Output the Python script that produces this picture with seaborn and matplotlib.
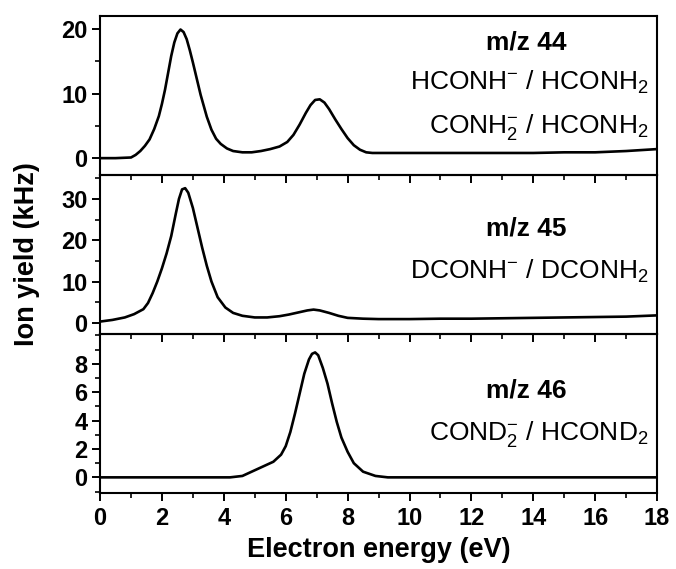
import matplotlib
matplotlib.use("Agg")
import matplotlib.pyplot as plt
from matplotlib.ticker import MultipleLocator, FixedLocator
import pandas as pd
import seaborn as sns

# Ion yield curves (kHz) versus electron energy (eV)
energy_44 = [0, 0.5, 1.0, 1.15, 1.3, 1.45, 1.6, 1.75, 1.9, 2.0, 2.1, 2.2, 2.3, 2.4,
             2.5, 2.6, 2.7, 2.8, 2.9, 3.0, 3.1, 3.25, 3.45, 3.6, 3.75, 3.9, 4.1,
             4.3, 4.6, 4.9, 5.2, 5.5, 5.8, 6.05, 6.25, 6.45, 6.65, 6.8, 6.95,
             7.1, 7.25, 7.4, 7.6, 7.8, 8.0, 8.2, 8.4, 8.6, 8.8, 9.0, 10, 11, 12,
             13, 14, 15, 16, 17, 18]
yield_44 = [0, 0, 0.1, 0.5, 1.1, 1.9, 2.9, 4.5, 6.5, 8.4, 10.6, 13.2, 15.8, 17.9,
            19.3, 19.9, 19.5, 18.4, 16.7, 14.8, 12.8, 9.8, 6.4, 4.4, 3.0, 2.2, 1.5,
            1.1, 0.9, 0.9, 1.1, 1.4, 1.8, 2.5, 3.6, 5.2, 7.0, 8.2, 9.0,
            9.1, 8.6, 7.6, 6.0, 4.5, 3.1, 2.0, 1.3, 0.9, 0.8, 0.8, 0.8, 0.8, 0.8,
            0.8, 0.8, 0.9, 0.9, 1.1, 1.4]

energy_45 = [0, 0.4, 0.8, 1.1, 1.4, 1.55, 1.7, 1.85, 2.0, 2.15, 2.3, 2.45, 2.55,
             2.65, 2.75, 2.85, 3.0, 3.15, 3.3, 3.45, 3.6, 3.8, 4.05, 4.3, 4.6,
             5.0, 5.4, 5.8, 6.1, 6.4, 6.7, 6.9, 7.1, 7.4, 7.7, 8.0, 8.5, 9.0, 10,
             11, 12, 13, 14, 15, 16, 17, 18]
yield_45 = [0.3, 0.7, 1.3, 2.1, 3.3, 4.8, 7.2, 10.0, 13.2, 16.8, 21.0, 26.5, 30.0,
            32.3, 32.6, 31.5, 27.8, 23.0, 18.2, 13.8, 10.0, 6.2, 3.7, 2.4, 1.7,
            1.3, 1.3, 1.6, 2.0, 2.5, 3.0, 3.2, 3.0, 2.4, 1.7, 1.2, 1.0, 0.9, 0.9,
            1.0, 1.0, 1.1, 1.2, 1.3, 1.4, 1.5, 1.8]

energy_46 = [0, 2, 4.2, 4.6, 5.0, 5.3, 5.6, 5.85, 6.0, 6.15, 6.3, 6.45, 6.6, 6.75,
             6.85, 6.95, 7.05, 7.2, 7.35, 7.5, 7.65, 7.8, 8.0, 8.2, 8.5, 8.9, 9.3,
             12, 15, 18]
yield_46 = [0, 0, 0, 0.1, 0.5, 0.8, 1.1, 1.6, 2.2, 3.2, 4.5, 5.9, 7.3, 8.3,
            8.7, 8.8, 8.6, 7.7, 6.6, 5.2, 3.9, 2.8, 1.8, 1.0, 0.4, 0.1, 0,
            0, 0, 0]

mass_labels = ["m/z 44", "m/z 45", "m/z 46"]
channel_labels = [
    [r"HCONH$^{-}$ / HCONH$_{2}$", r"CONH$_{2}^{-}$ / HCONH$_{2}$"],
    [r"DCONH$^{-}$ / DCONH$_{2}$"],
    [r"COND$_{2}^{-}$ / HCOND$_{2}$"],
]
x_ticks = [0, 2, 4, 6, 8, 10, 12, 14, 16, 18]
y_ticks = [[0, 10, 20], [0, 10, 20, 30], [0, 2, 4, 6, 8]]
y_limits = [(-2.6, 22.0), (-2.7, 35.8), (-1.1, 10.1)]
y_minor = [5, 5, 1]

sns.set_theme(style="ticks")
plt.rcParams["font.family"] = ["Liberation Sans", "DejaVu Sans"]
plt.rcParams["mathtext.default"] = "regular"
for key in ["text.color", "axes.labelcolor", "xtick.color", "ytick.color",
            "axes.edgecolor"]:
    plt.rcParams[key] = "black"

fig = plt.figure(figsize=(6.76, 5.69), dpi=100, facecolor="white")
gs = fig.add_gridspec(3, 1, left=0.148, right=0.972, top=0.972, bottom=0.1336,
                      hspace=0.0)
axes = [fig.add_subplot(gs[i]) for i in range(3)]

series = [(energy_44, yield_44), (energy_45, yield_45), (energy_46, yield_46)]
label_y = [[0.535, 0.264], [0.348], [0.331]]
mass_y = [0.786, 0.62, 0.60]

for i, (ax, (ex, iy)) in enumerate(zip(axes, series)):
    df = pd.DataFrame({"energy": ex, "yield": iy})
    ax.set_facecolor("none")
    sns.lineplot(data=df, x="energy", y="yield", ax=ax, color="black",
                 linewidth=1.9, estimator=None, sort=False)
    ax.set_xlim(0, 18)
    ax.set_ylim(*y_limits[i])
    ax.set_xticks(x_ticks)
    ax.xaxis.set_minor_locator(MultipleLocator(1))
    ax.yaxis.set_major_locator(FixedLocator(y_ticks[i]))
    ax.yaxis.set_minor_locator(MultipleLocator(y_minor[i]))
    ax.set_xlabel("")
    ax.set_ylabel("")
    for sp in ax.spines.values():
        sp.set_visible(True)
        sp.set_linewidth(1.5)
        sp.set_color("black")
    ax.tick_params(axis="both", which="major", direction="out", length=6,
                   width=1.4, color="black", labelsize=17, pad=3,
                   labelcolor="black")
    ax.tick_params(axis="both", which="minor", direction="out", length=3.5,
                   width=1.2, color="black")
    ax.tick_params(axis="x", which="both", top=False, bottom=True)
    ax.tick_params(axis="y", which="both", right=False, left=True)
    for lab in ax.get_yticklabels():
        lab.set_fontweight("bold")
    if i < 2:
        ax.tick_params(axis="x", labelbottom=False)
    else:
        ax.tick_params(axis="x", which="major", pad=4)
        for lab in ax.get_xticklabels():
            lab.set_fontweight("bold")

    ax.text(0.765, mass_y[i], mass_labels[i], transform=ax.transAxes,
            ha="center", va="baseline", fontsize=19, fontweight="bold",
            color="black")
    for txt, yy in zip(channel_labels[i], label_y[i]):
        ax.text(0.984, yy, txt, transform=ax.transAxes, ha="right",
                va="baseline", fontsize=19, color="black")

axes[2].set_xlabel("Electron energy (eV)", fontsize=19.5, fontweight="bold",
                   labelpad=5, color="black")
fig.text(0.04, (0.972 + 0.1336) / 2, "Ion yield (kHz)", rotation=90,
         ha="center", va="center", fontsize=19.5, fontweight="bold",
         color="black")

fig.savefig("out.png", dpi=100, facecolor="white")
